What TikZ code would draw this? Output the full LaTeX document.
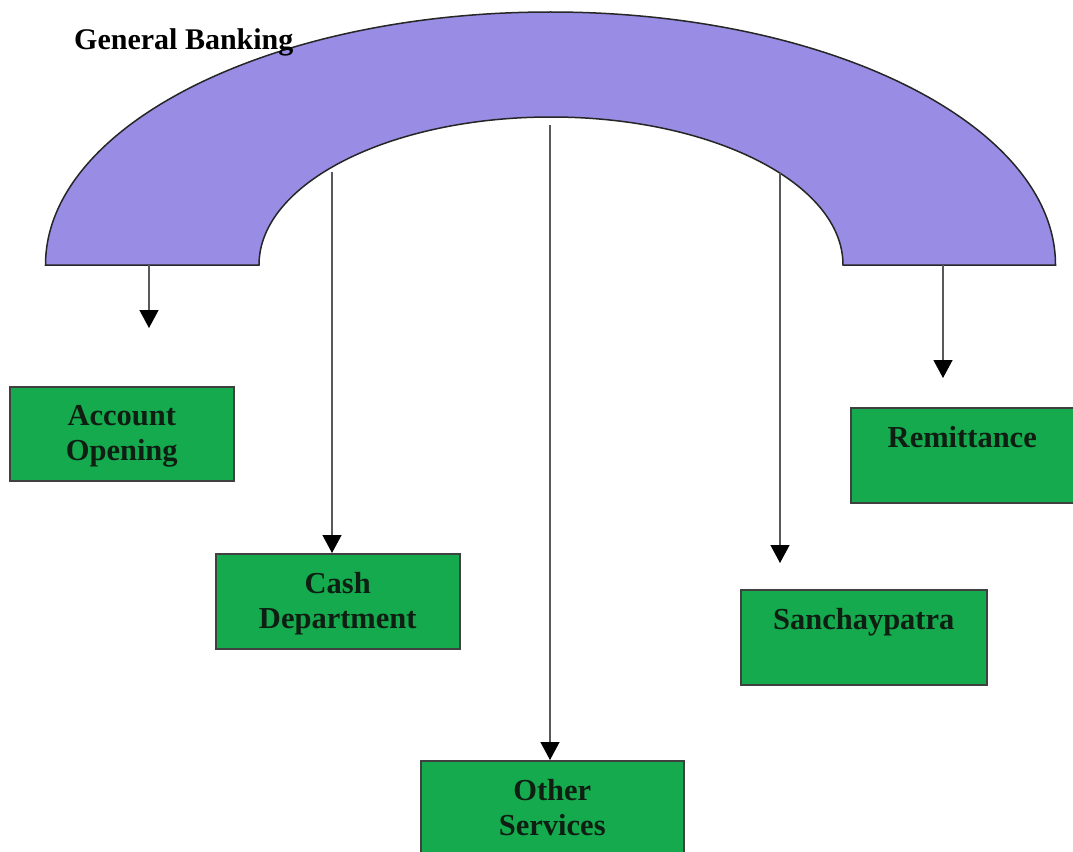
\documentclass[tikz,border=0pt]{standalone}
\usepackage{fontspec}
\setmainfont{Liberation Serif}
\usetikzlibrary{arrows.meta}
\definecolor{archfill}{RGB}{152,140,228}
\definecolor{boxfill}{RGB}{22,170,78}
\definecolor{boxtext}{RGB}{14,30,18}

\begin{document}
\begin{tikzpicture}[x=1pt,y=-1pt,
  archline/.style={draw=black!85, line width=1.5pt, fill=archfill},
  gbox/.style={draw=black!75, line width=1.5pt, fill=boxfill, rectangle,
    inner sep=0pt, anchor=north west},
  glabel/.style={anchor=north, inner sep=0pt, yshift=-19pt, align=center,
    font=\fontsize{30.5}{35}\selectfont\bfseries, text=boxtext},
  link/.style={draw=black!65, line width=1.3pt,
    -{Triangle[width=19pt,length=18pt,color=black]}}
]
\useasboundingbox (0,0) rectangle (1073,851);
\fill[white] (0,0) rectangle (1073,851);

% the arch
\path[archline] (45.5,265)
  arc[start angle=180, end angle=360, x radius=505, y radius=253]
  -- (843,265)
  arc[start angle=360, end angle=180, x radius=292, y radius=148]
  -- cycle;

\node[font=\fontsize{30}{35}\selectfont\bfseries, anchor=base west, inner sep=0pt]
  (title) at (74,50) {General Banking};

% service boxes
\node[gbox, minimum width=224pt, minimum height=94pt,
  label={[glabel]north:{Account\\Opening}}] (acc) at (9,386) {};
\node[gbox, minimum width=244pt, minimum height=95pt,
  label={[glabel]north:{Cash\\Department}}] (cash) at (215,553) {};
\node[gbox, minimum width=263pt, minimum height=100pt,
  label={[glabel]north:{Other\\Services}}] (oth) at (420,760) {};
\node[gbox, minimum width=246pt, minimum height=95pt,
  label={[glabel]north:{Sanchaypatra}}] (san) at (740,589) {};
\node[gbox, minimum width=223pt, minimum height=95pt,
  label={[glabel]north:{Remittance}}] (rem) at (850,407) {};

% connectors
\coordinate (accTop) at (149,265);
\coordinate (accEnd) at (149,328);
\coordinate (cashTop) at (332,172);
\coordinate (othTop) at (550,125);
\coordinate (sanTop) at (780,173);
\coordinate (sanEnd) at (780,563);
\coordinate (remTop) at (943,265);
\coordinate (remEnd) at (943,378);

\draw[link] (accTop) -- (accEnd);
\draw[link] (cashTop) -- (cashTop |- cash.north);
\draw[link] (othTop) -- (othTop |- oth.north);
\draw[link] (sanTop) -- (sanEnd);
\draw[link] (remTop) -- (remEnd);
\end{tikzpicture}
\end{document}
